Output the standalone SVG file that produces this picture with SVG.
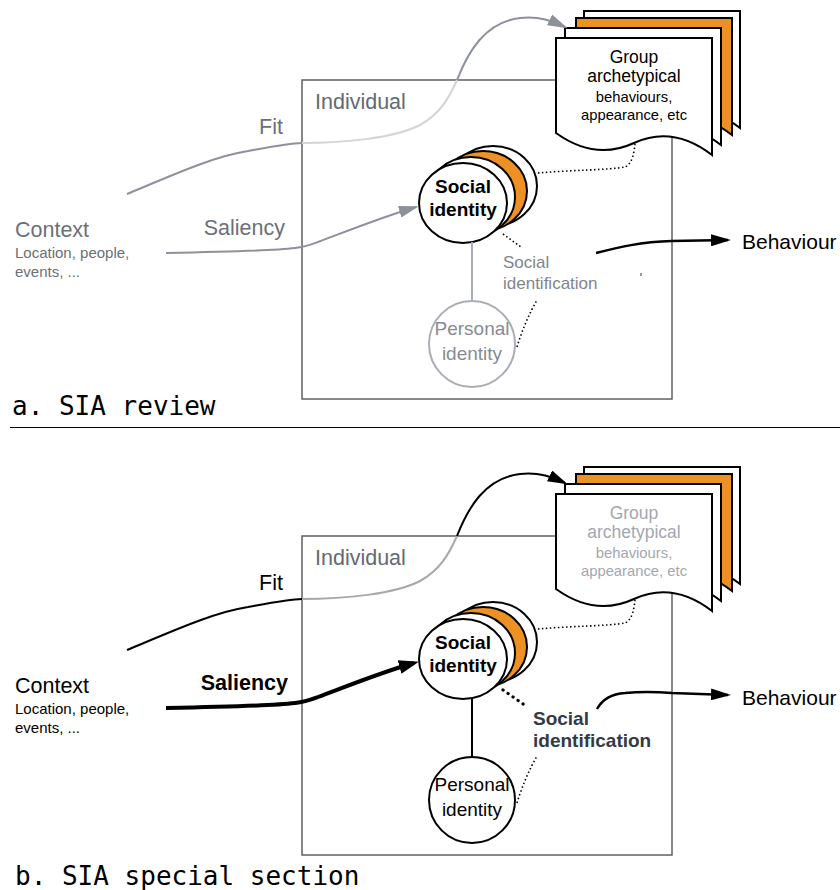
<svg xmlns="http://www.w3.org/2000/svg" xmlns:xlink="http://www.w3.org/1999/xlink" width="840" height="890" viewBox="0 0 840 890">
<style>
.t{font-family:"Liberation Sans",Arial,sans-serif}
.mono{font-family:"DejaVu Sans Mono","Liberation Mono",monospace;font-size:26px;fill:#000}
.box{fill:none;stroke:#606060;stroke-width:1.5}
.doc{fill:#fff;stroke:#000;stroke-width:2;stroke-linejoin:miter}
.docO{fill:#EE9124;stroke:#000;stroke-width:2}
.ci{fill:#fff;stroke:#000;stroke-width:2}
.ciO{fill:#EE9124;stroke:#000;stroke-width:2}
.dot{fill:none;stroke:#000;stroke-width:1.6;stroke-dasharray:1.5 2.5}
.dotb{fill:none;stroke:#000;stroke-width:3.2;stroke-dasharray:0.1 6;stroke-linecap:round}
.ln{fill:none}
</style>
<defs>
<path id="docshape" d="M0,0 H156 V117 Q117,87 78,105 Q39,123 0,95 Z"/>
<marker id="ag" markerUnits="userSpaceOnUse" markerWidth="20" markerHeight="12" viewBox="0 0 20 12" refX="17" refY="6" orient="auto"><path d="M0,0 L20,6 L0,12 z" fill="#8c919b"/></marker>
<marker id="ak" markerUnits="userSpaceOnUse" markerWidth="20" markerHeight="12" viewBox="0 0 20 12" refX="17" refY="6" orient="auto"><path d="M0,0 L20,6 L0,12 z" fill="#000"/></marker>
<marker id="akb" markerUnits="userSpaceOnUse" markerWidth="20" markerHeight="14" viewBox="0 0 20 14" refX="15" refY="7" orient="auto"><path d="M0,0 L20,7 L0,14 z" fill="#000"/></marker>
</defs>
<rect width="840" height="890" fill="#fff"/>

<!-- ===== Panel a ===== -->
<g id="individual-a">
<rect class="box" x="302" y="80" width="370" height="319"/>
<text class="t" x="315" y="109" font-size="21.5" fill="#636a74">Individual</text>
</g>
<g id="group-docs-a">
<use href="#docshape" class="doc" x="584" y="11"/>
<use href="#docshape" class="docO" x="576" y="18"/>
<use href="#docshape" class="doc" x="565" y="28"/>
<use href="#docshape" class="doc" x="556" y="38"/>
<g class="t" text-anchor="middle" fill="#000">
<text x="634" y="63" font-size="17.5">Group</text>
<text x="634" y="82" font-size="17.5">archetypical</text>
<text x="634" y="102" font-size="14.8">behaviours,</text>
<text x="634" y="120" font-size="14.8">appearance, etc</text>
</g>
</g>
<g id="social-identity-a">
<ellipse class="ci" cx="493" cy="186" rx="44" ry="40"/>
<ellipse class="ciO" cx="483" cy="191" rx="44" ry="40"/>
<ellipse class="ci" cx="471" cy="197" rx="44" ry="40"/>
<ellipse class="ci" cx="463" cy="203" rx="44" ry="40"/>
<g class="t" text-anchor="middle" font-weight="bold" font-size="19" fill="#000">
<text x="463" y="193">Social</text>
<text x="463" y="216">identity</text>
</g>
</g>
<g id="personal-identity-a">
<circle cx="472" cy="344" r="43" fill="#fff" stroke="#a9adb5" stroke-width="2"/>
<g class="t" text-anchor="middle" font-size="19" fill="#868b95">
<text x="472" y="335">Personal</text>
<text x="472" y="360">identity</text>
</g>
</g>
<g id="context-a" class="t" fill="#6a707a">
<text x="15" y="237" font-size="21.5">Context</text>
<text x="15" y="258" font-size="15">Location, people,</text>
<text x="15" y="277" font-size="15">events, ...</text>
</g>
<g id="behaviour-a">
<text class="t" x="742" y="249" font-size="21" fill="#000">Behaviour</text>
</g>
<g id="labels-a" class="t" fill="#6a707a">
<text x="283" y="134" font-size="21.5" text-anchor="end">Fit</text>
<text x="285" y="235" font-size="21.5" text-anchor="end">Saliency</text>
<text x="503" y="268" font-size="17" fill="#7f858f">Social</text>
<text x="503" y="289" font-size="17" fill="#7f858f">identification</text>
</g>
<g id="connectors-a">
<path class="ln" d="M127,194 C175,174 215,156 248,151 C275,146 290,143 302,143" stroke="#8c919b" stroke-width="2"/>
<path class="ln" d="M302,143 C345,143 395,138 420,125 C440,114 449,98 457,80" stroke="#d4d4d4" stroke-width="2"/>
<path class="ln" d="M457,80 C468,52 485,22 520,18 C540,16 552,21 565,27" stroke="#8c919b" stroke-width="2" marker-end="url(#ag)"/>
<path class="ln" d="M166,253 C220,252 270,251 295,248 C305,247 310,245 318,242 C350,230 385,216 416,207" stroke="#8c919b" stroke-width="2" marker-end="url(#ag)"/>
<path class="ln" d="M596,253 C620,247 640,242 672,241 L728,240" stroke="#000" stroke-width="2.5" marker-end="url(#ak)"/>
<line x1="472" y1="242" x2="472" y2="301" stroke="#a9adb5" stroke-width="2"/>
<path class="dot" d="M538,173 C570,170 610,170 625,167 C633,163 634,152 635,144"/>
<path class="dot" d="M503,234 L521,247"/>
<path class="dot" d="M517,347 C522,330 530,312 537,300"/>
<line x1="641" y1="273" x2="641" y2="276" stroke="#555" stroke-width="1.2"/>
</g>
<text class="mono" x="12" y="415">a. SIA review</text>
<line x1="10" y1="427.5" x2="840" y2="427.5" stroke="#000" stroke-width="1"/>

<!-- ===== Panel b ===== -->
<g id="individual-b">
<rect class="box" x="302" y="536" width="370" height="319"/>
<text class="t" x="315" y="565" font-size="21.5" fill="#636a74">Individual</text>
</g>
<g id="group-docs-b">
<use href="#docshape" class="doc" x="584" y="467"/>
<use href="#docshape" class="docO" x="576" y="474"/>
<use href="#docshape" class="doc" x="565" y="484"/>
<use href="#docshape" class="doc" x="556" y="494"/>
<g class="t" text-anchor="middle" fill="#a3a7ae">
<text x="634" y="519" font-size="17.5">Group</text>
<text x="634" y="538" font-size="17.5">archetypical</text>
<text x="634" y="558" font-size="14.8">behaviours,</text>
<text x="634" y="576" font-size="14.8">appearance, etc</text>
</g>
</g>
<g id="social-identity-b">
<ellipse class="ci" cx="493" cy="642" rx="44" ry="40"/>
<ellipse class="ciO" cx="483" cy="647" rx="44" ry="40"/>
<ellipse class="ci" cx="471" cy="653" rx="44" ry="40"/>
<ellipse class="ci" cx="463" cy="659" rx="44" ry="40"/>
<g class="t" text-anchor="middle" font-weight="bold" font-size="19" fill="#000">
<text x="463" y="649">Social</text>
<text x="463" y="672">identity</text>
</g>
</g>
<g id="personal-identity-b">
<circle cx="472" cy="800" r="43" fill="#fff" stroke="#000" stroke-width="2"/>
<g class="t" text-anchor="middle" font-size="19" fill="#000">
<text x="472" y="791">Personal</text>
<text x="472" y="816">identity</text>
</g>
</g>
<g id="context-b" class="t" fill="#000">
<text x="15" y="693" font-size="21.5">Context</text>
<text x="15" y="714" font-size="15">Location, people,</text>
<text x="15" y="733" font-size="15">events, ...</text>
</g>
<g id="behaviour-b">
<text class="t" x="742" y="705" font-size="21" fill="#000">Behaviour</text>
</g>
<g id="labels-b" class="t" fill="#000">
<text x="283" y="590" font-size="21.5" text-anchor="end">Fit</text>
<text x="288" y="690" font-size="21.5" font-weight="bold" text-anchor="end">Saliency</text>
<text x="533" y="725" font-size="19" font-weight="bold" fill="#333a45">Social</text>
<text x="533" y="747" font-size="19" font-weight="bold" fill="#333a45">identification</text>
</g>
<g id="connectors-b">
<path class="ln" d="M127,650 C175,630 215,612 248,607 C275,602 290,599 302,599" stroke="#000" stroke-width="2"/>
<path class="ln" d="M302,599 C345,599 395,594 420,581 C440,570 449,554 457,536" stroke="#a8a8a8" stroke-width="2"/>
<path class="ln" d="M457,536 C468,508 485,478 520,474 C540,472 552,477 565,483" stroke="#000" stroke-width="2" marker-end="url(#ak)"/>
<path class="ln" d="M166,708 C220,707 270,706 295,703 C305,702 310,700 318,697 C350,685 385,671 414,663" stroke="#000" stroke-width="4" marker-end="url(#akb)"/>
<path class="ln" d="M597,709 C602,700 610,694 625,693 C645,691 660,692 672,693 L728,695" stroke="#000" stroke-width="2.5" marker-end="url(#ak)"/>
<line x1="472" y1="698" x2="472" y2="757" stroke="#000" stroke-width="2"/>
<path class="dot" d="M538,629 C570,626 610,626 625,623 C633,619 634,608 635,600"/>
<path class="dotb" d="M503,690 L526,706"/>
<path class="dot" stroke-width="1.2" d="M517,803 C522,786 530,768 537,756"/>
</g>
<text class="mono" x="15" y="885">b. SIA special section</text>
</svg>
